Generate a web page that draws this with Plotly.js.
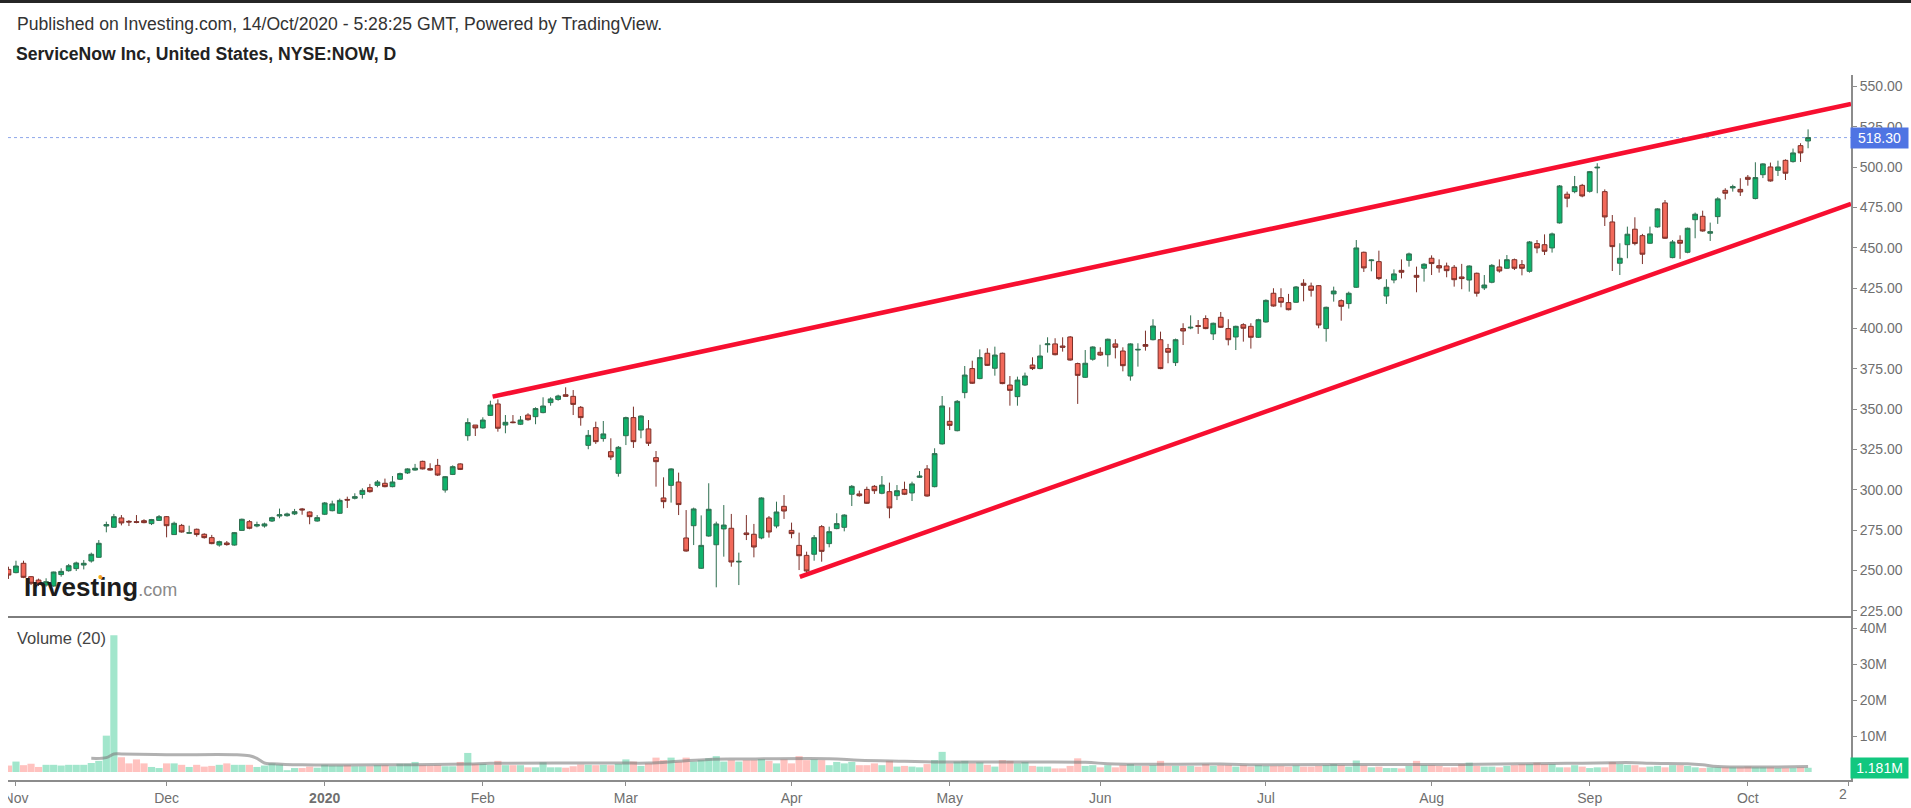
<!DOCTYPE html>
<html>
<head>
<meta charset="utf-8">
<script src="https://cdn.plot.ly/plotly-3.0.1.min.js"></script>
<style>
  html, body { margin: 0; padding: 0; background: #fff; overflow: hidden; }
  .top-strip { position: absolute; left: 0; top: 0; width: 1911px; height: 3px; background: #262626; z-index: 2; }
  .left-clip { position: absolute; left: 0; top: 782px; width: 8px; height: 26px; background: #fff; z-index: 2; }
  .chart { width: 1911px; height: 808px; }
</style>
</head>
<body>
<div class="top-strip"></div>
<div class="left-clip"></div>
<div class="chart"></div>
<script>
// daily candles, first one is 31 Oct 2019 (bar -1)
const openPrices = [250.6,
  248.6,254.4,246.1,244.0,240.9,240.3,247.4,249.8,251.1,253.3,
  255.8,258.1,277.5,276.7,282.5,280.4,280.2,280.8,279.0,281.0,
  283.3,272.2,277.9,273.0,275.5,272.4,270.3,265.7,267.0,265.7,
  274.8,280.2,277.5,277.5,280.6,283.7,283.9,285.0,288.1,286.2,
  280.6,284.8,287.0,285.4,294.0,294.7,297.1,301.3,302.7,304.0,
  301.9,306.5,310.4,312.2,317.6,313.1,315.1,299.8,309.5,316.0,
  333.5,340.1,338.3,346.1,353.2,340.1,342.0,340.6,346.3,345.3,
  347.8,354.0,356.0,358.9,357.9,351.1,327.5,338.5,331.7,323.6,
  310.2,333.5,344.7,337.0,337.7,319.9,294.9,302.7,304.8,270.1,
  277.7,251.3,271.3,265.9,275.7,276.1,255.2,273.2,272.4,270.1,
  282.5,277.5,289.7,274.8,265.5,259.3,260.0,277.1,266.6,275.9,
  276.7,297.2,297.4,300.2,302.1,297.8,298.8,296.3,300.2,298.0,
  307.7,312.9,301.9,328.4,342.4,336.6,360.2,375.1,368.9,384.6,
  375.3,384.6,364.9,357.7,364.9,377.3,375.1,389.9,390.4,389.1,
  394.7,378.2,369.7,380.9,385.2,383.7,390.4,386.0,370.5,386.6,
  390.0,393.0,393.0,387.5,378.8,399.9,400.3,401.7,406.1,396.6,
  406.9,399.9,394.7,402.3,401.3,394.5,404.0,421.8,419.1,416.0,
  416.2,428.0,426.3,426.5,399.9,421.4,417.2,415.4,425.5,447.2,
  442.0,441.4,420.1,430.0,436.0,442.2,432.9,437.3,443.5,438.9,
  438.7,437.9,431.9,430.0,434.2,425.1,428.6,438.1,437.3,442.6,
  439.5,435.4,452.6,451.9,449.9,465.4,483.2,484.8,488.7,485.0,
  499.5,484.8,466.0,440.4,451.9,461.5,457.5,452.8,462.9,477.8,
  443.9,454.6,447.2,467.4,469.5,459.0,469.3,485.6,487.1,486.2,
  493.7,480.5,495.3,500.1,498.0,504.2,503.4,513.3,516.2]
const highPrices = [252.3,
  256.0,256.0,246.5,244.9,245.1,249.2,251.3,254.0,255.4,256.4,
  261.0,268.8,280.2,285.0,284.3,281.2,284.3,281.7,281.9,284.3,
  283.7,280.2,278.8,277.7,275.9,273.0,272.0,268.4,268.2,273.8,
  282.1,281.2,280.2,279.6,283.3,288.3,285.8,288.1,288.7,286.6,
  284.3,292.4,293.2,294.5,295.7,297.8,300.9,303.6,306.0,306.9,
  308.5,310.6,313.3,316.0,318.0,316.4,319.1,308.5,315.1,316.4,
  344.3,340.1,344.9,355.2,356.0,346.3,346.3,345.7,347.4,351.1,
  357.3,357.3,358.9,363.5,361.8,351.9,337.0,342.2,342.6,331.9,
  327.1,345.3,351.5,346.1,343.2,324.0,307.7,313.3,310.6,287.4,
  288.9,284.1,304.0,280.2,290.5,285.0,261.0,284.3,278.8,295.3,
  283.7,292.6,296.7,279.6,273.4,261.6,271.9,278.1,277.1,285.4,
  284.8,302.9,299.4,301.9,302.9,308.5,304.4,302.9,305.0,305.0,
  311.6,315.3,325.7,358.1,351.1,355.6,376.7,380.0,387.0,387.7,
  388.7,385.0,370.5,370.1,372.6,382.1,389.9,394.5,393.9,394.5,
  395.3,378.8,386.6,388.9,388.3,393.7,393.3,388.3,390.8,390.8,
  398.6,405.7,398.0,390.4,393.7,403.2,408.1,405.2,408.1,403.6,
  410.2,405.7,401.7,403.2,403.2,406.0,418.0,424.9,424.9,421.4,
  426.3,430.5,428.4,426.9,413.5,425.9,418.0,422.8,454.8,447.6,
  442.8,448.2,430.5,436.6,442.8,447.0,438.3,440.4,445.3,442.8,
  440.8,439.3,440.0,439.1,434.6,433.1,439.9,442.8,445.5,443.3,
  442.4,454.2,454.8,458.3,459.4,488.9,484.8,494.5,489.6,497.6,
  502.4,486.2,470.3,452.8,463.1,468.9,458.6,463.1,474.5,479.6,
  454.8,457.7,462.5,471.8,473.0,465.6,481.3,486.9,489.1,493.1,
  495.1,503.0,502.4,502.8,504.0,504.8,511.5,514.8,523.4]
const lowPrices = [244.7,
  248.2,245.2,240.9,240.3,239.9,239.9,246.1,249.2,249.6,250.6,
  254.8,257.9,273.6,276.5,277.9,277.5,279.2,279.2,278.1,280.6,
  270.5,272.0,273.4,272.6,270.9,269.7,266.2,264.7,265.3,265.3,
  274.6,275.5,276.7,276.5,280.0,282.3,283.3,284.3,284.5,278.6,
  280.2,284.3,286.6,285.0,288.7,294.0,294.5,298.2,301.5,301.5,
  301.5,306.0,309.8,311.8,312.6,311.8,308.5,298.2,309.1,312.2,
  330.4,333.3,337.9,345.7,336.0,335.0,341.2,340.1,342.8,340.6,
  347.4,352.1,355.2,357.7,346.3,339.7,325.1,328.4,329.8,318.4,
  308.1,327.7,325.9,331.9,327.1,301.9,288.5,292.0,284.3,261.6,
  265.7,250.9,270.9,239.5,258.5,252.3,240.9,268.8,258.1,269.3,
  270.3,276.1,281.9,269.9,250.2,248.2,256.0,255.4,264.3,275.5,
  274.2,289.9,295.7,291.2,297.4,297.2,282.3,293.6,296.7,293.0,
  307.3,295.7,301.5,328.0,337.0,336.2,356.7,365.6,368.5,376.7,
  370.7,365.4,352.1,352.1,364.3,374.2,374.7,385.0,383.3,385.6,
  380.0,353.2,369.3,380.0,382.9,376.3,381.4,373.4,367.6,376.3,
  386.2,392.6,374.7,378.4,376.7,389.7,399.5,396.6,399.5,392.8,
  400.3,389.5,386.6,391.8,387.5,394.1,403.6,413.5,413.1,411.2,
  415.8,416.8,419.7,400.1,391.8,416.6,404.8,412.3,425.1,435.0,
  435.4,430.0,415.2,428.0,431.0,438.3,422.4,429.0,433.1,434.6,
  431.7,425.9,424.3,422.8,419.7,423.8,428.0,434.6,436.9,436.2,
  432.9,434.6,446.6,445.5,447.0,465.0,475.1,483.8,481.3,484.2,
  483.8,463.5,435.6,433.1,443.5,451.5,439.9,452.4,462.5,455.5,
  443.5,443.1,446.6,455.9,460.0,454.2,464.8,480.0,484.8,482.1,
  488.5,480.0,493.2,491.0,494.5,492.0,502.8,503.2,511.7]
const closePrices = [247.1,
  252.7,245.7,242.0,241.5,243.0,249.0,249.4,252.9,254.6,254.4,
  260.0,266.8,278.4,283.3,279.4,280.0,279.8,279.6,281.5,283.3,
  277.7,279.2,273.8,273.4,272.2,270.3,266.6,267.8,266.0,273.4,
  281.7,276.1,278.4,278.8,282.7,284.5,285.0,286.4,287.5,283.3,
  282.7,291.8,291.2,293.4,293.6,295.7,299.6,298.8,304.8,301.9,
  304.8,310.0,312.9,313.3,312.9,312.2,309.1,308.1,314.3,312.6,
  341.6,338.3,343.2,352.5,338.1,341.8,341.6,343.2,343.4,350.3,
  351.9,356.3,358.1,357.9,352.9,344.7,333.7,329.8,334.6,320.3,
  326.3,344.7,329.8,345.7,328.8,317.4,292.6,312.9,290.8,262.0,
  288.1,265.5,287.9,278.8,278.1,255.2,255.6,272.2,264.5,294.9,
  273.8,286.2,286.8,272.8,259.1,249.6,270.3,261.8,274.0,279.0,
  284.3,302.1,296.3,291.6,299.4,302.9,288.7,299.4,297.2,303.6,
  308.5,296.1,322.4,351.9,339.9,354.8,371.1,366.0,381.9,377.1,
  383.5,365.8,361.6,368.0,370.5,375.1,382.9,390.4,383.7,388.3,
  380.4,370.9,378.4,388.5,383.5,393.3,388.3,376.9,390.4,387.0,
  388.9,401.5,375.1,385.2,393.0,398.4,400.7,401.3,399.9,403.2,
  400.7,393.0,401.3,400.1,394.5,405.4,417.4,413.9,416.2,411.6,
  425.7,426.7,423.6,402.1,413.1,423.2,413.7,421.8,449.9,437.5,
  442.4,430.9,425.5,433.8,434.8,446.2,431.7,439.8,440.2,437.5,
  435.8,430.2,430.9,438.7,421.8,426.9,439.1,435.6,442.6,437.3,
  437.3,453.6,449.9,447.8,458.6,488.3,480.7,487.9,482.1,497.2,
  499.9,469.1,450.7,443.5,458.4,452.6,446.0,458.6,474.1,455.9,
  453.6,452.8,462.1,470.8,460.4,460.0,480.3,483.8,487.9,484.6,
  492.4,493.5,502.0,491.4,500.1,496.2,508.8,508.8,518.3]
// volume in millions
const volumes = [1.8,
  2.9,1.9,2.3,1.4,2.0,2.0,1.8,2.0,2.0,2.0,
  2.5,3.1,10.1,38,4.1,2.4,3.5,2.4,1.4,1.1,
  2.4,2.4,2.0,1.4,2.0,1.5,1.7,2.0,2.4,2.0,
  2.0,2.0,1.4,1.8,2.4,2.1,0.5,1.1,1.1,1.5,
  1.2,2.0,1.8,1.8,1.9,1.6,1.6,1.6,1.9,1.9,
  1.6,2.3,2.3,2.8,1.9,1.8,1.9,1.6,1.6,2.8,
  5.3,2.3,2.3,2.0,3.1,1.9,1.9,1.9,1.3,1.3,
  2.7,1.3,1.3,1.2,1.6,2.1,2.0,1.9,2.0,1.9,
  2.3,3.5,2.9,1.7,2.4,4.0,3.3,4.0,2.9,4.0,
  2.9,3.3,3.8,4.4,2.9,3.3,2.9,3.3,3.3,3.6,
  3.1,2.4,3.5,2.4,4.4,3.3,3.5,3.3,1.9,2.8,
  2.4,2.8,1.9,1.9,2.4,1.9,3.1,1.5,1.7,1.5,
  1.3,2.2,3.3,5.6,2.4,2.9,3.1,2.4,2.7,2.0,
  1.5,3.3,3.1,2.4,2.8,1.7,1.5,1.5,1.0,1.0,
  1.7,3.8,1.7,1.9,1.3,1.9,1.3,1.9,2.2,1.7,
  1.7,1.9,3.1,1.7,1.7,1.7,1.7,1.5,2.2,1.7,
  1.9,1.9,1.5,1.9,1.5,1.9,1.7,1.7,1.7,1.5,
  1.8,1.5,1.5,1.7,1.9,2.2,1.9,1.5,3.2,1.8,
  1.3,1.5,1.1,1.1,1.0,1.7,3.1,1.9,1.9,1.7,
  1.3,1.3,2.2,2.6,1.7,1.5,1.5,1.3,1.7,1.9,
  2.2,2.2,2.6,2.2,2.2,1.3,1.3,1.9,1.5,1.1,
  1.3,1.3,2.8,2.2,2.0,1.9,1.3,1.5,1.7,1.3,
  1.9,1.9,1.7,1.3,1.1,1.3,1.3,1.3,1.3,1.3,
  1.5,1.3,1.3,1.3,1.1,1.1,1.1,1.3,1.181]

// volume moving average, read at a few bars only
const maBars = [10,12,13,14,20,29,31,32,33,34,38,50,60,63,80,84,88,92,96,108,112,118,122,136,142,146,160,165,176,192,200,206,212,215,217,222,224,226,238]
const maValues = [3.8,4.0,5.0,5.0,4.8,4.8,4.5,3.8,2.5,2.3,2.0,2.0,2.2,2.4,2.5,2.5,3.0,3.5,3.6,3.7,3.3,3.0,2.8,2.8,2.7,2.2,2.2,2.0,2.1,2.1,2.3,2.4,2.6,2.6,2.4,2.3,2.0,1.5,1.5]

// the two red wedge lines
const upperLineBars = [63.3, 243.7]
const upperLinePrices = [357.7, 539.2]
const lowerLineBars = [104.1, 243.7]
const lowerLinePrices = [246, 477.2]

const monthBars = [0, 20, 41, 62, 81, 103, 124, 144, 166, 188, 209, 230, 243.4]
const monthLabels = ['Nov', 'Dec', '<b>2020</b>', 'Feb', 'Mar', 'Apr', 'May', 'Jun', 'Jul', 'Aug', 'Sep', 'Oct', '']
const priceTicks = [225, 250, 275, 300, 325, 350, 375, 400, 425, 450, 475, 500, 525, 550]
const volumeTicks = [10, 20, 30, 40]
const volumeTickLabels = ['10M', '20M', '30M', '40M']

const lastPrice = 518.30
const lastVolume = 1.181

function drawChart() {
    const chart = document.querySelector('.chart')
    const bars = openPrices.map((_, i) => i - 1)
    const font = '"Liberation Sans", Arial, sans-serif'
    const axisGrey = '#8c8c8c'
    const tickGrey = '#6f6f6f'

    const candles = {
        type: 'candlestick',
        x: bars,
        open: openPrices,
        high: highPrices,
        low: lowPrices,
        close: closePrices,
        xaxis: 'x',
        yaxis: 'y',
        increasing: { line: { color: '#2f6f50', width: 1 }, fillcolor: '#0fb36c' },
        decreasing: { line: { color: '#7c2f28', width: 1 }, fillcolor: '#f2695a' },
        whiskerwidth: 0,
        hoverinfo: 'skip'
    }

    const volumeBars = {
        type: 'bar',
        x: bars,
        y: volumes,
        yaxis: 'y2',
        width: 0.95,
        marker: {
            color: bars.map((_, i) => closePrices[i] >= openPrices[i] ? '#a2e6cc' : '#ffc2bf')
        },
        hoverinfo: 'skip'
    }

    const volumeMa = {
        type: 'scatter',
        mode: 'lines',
        x: maBars,
        y: maValues,
        yaxis: 'y2',
        line: { color: 'rgba(125,125,125,0.6)', width: 3, shape: 'spline' },
        hoverinfo: 'skip'
    }

    const upperLine = {
        type: 'scatter',
        mode: 'lines',
        x: upperLineBars,
        y: upperLinePrices,
        line: { color: '#f70f30', width: 4.5 },
        hoverinfo: 'skip'
    }
    const lowerLine = {
        type: 'scatter',
        mode: 'lines',
        x: lowerLineBars,
        y: lowerLinePrices,
        line: { color: '#f70f30', width: 4.5 },
        hoverinfo: 'skip'
    }

    const layout = {
        width: 1911,
        height: 808,
        margin: { l: 8, r: 60, t: 75, b: 28 },
        paper_bgcolor: '#fff',
        plot_bgcolor: '#fff',
        showlegend: false,
        boxgap: 0.1,
        font: { family: font, color: tickGrey, size: 14 },
        xaxis: {
            range: [-1.06, 243.7],
            anchor: 'y2',
            rangeslider: { visible: false },
            tickmode: 'array',
            tickvals: monthBars,
            ticktext: monthLabels,
            ticks: 'outside',
            ticklen: 4,
            tickcolor: axisGrey,
            showgrid: false,
            zeroline: false,
            showline: true,
            linecolor: axisGrey,
            linewidth: 2,
            tickfont: { family: font, size: 14, color: tickGrey }
        },
        yaxis: {
            domain: [0.2312, 1],
            range: [221.1, 557.1],
            side: 'right',
            anchor: 'x',
            tickmode: 'array',
            tickvals: priceTicks,
            tickformat: '.2f',
            ticks: 'outside',
            ticklen: 4,
            tickcolor: axisGrey,
            showgrid: false,
            zeroline: false,
            showline: true,
            linecolor: axisGrey,
            linewidth: 2,
            tickfont: { family: font, size: 14, color: tickGrey }
        },
        yaxis2: {
            domain: [0, 0.2312],
            range: [-2.22, 43.06],
            side: 'right',
            anchor: 'x',
            tickmode: 'array',
            tickvals: volumeTicks,
            ticktext: volumeTickLabels,
            ticks: 'outside',
            ticklen: 4,
            tickcolor: axisGrey,
            showgrid: false,
            zeroline: false,
            showline: true,
            linecolor: axisGrey,
            linewidth: 2,
            tickfont: { family: font, size: 14, color: tickGrey }
        },
        shapes: [
            // pane separator
            { type: 'line', xref: 'paper', yref: 'paper', x0: 0, x1: 1, y0: 0.2312, y1: 0.2312, line: { color: '#7d7d7d', width: 2 } },
            // last price dotted line
            { type: 'line', xref: 'paper', yref: 'y', x0: 0, x1: 1, y0: lastPrice, y1: lastPrice, layer: 'below', line: { color: '#8fa8ea', width: 1, dash: 'dot' } }
        ],
        annotations: [
            {
                xref: 'paper', yref: 'paper', x: 0, y: 1, xshift: 7, yshift: 51, xanchor: 'left', yanchor: 'middle', showarrow: false,
                text: 'Published on Investing.com, 14/Oct/2020 - 5:28:25 GMT, Powered by TradingView.',
                font: { family: font, size: 17.6, color: '#333' }
            },
            {
                xref: 'paper', yref: 'paper', x: 0, y: 1, xshift: 6, yshift: 21, xanchor: 'left', yanchor: 'middle', showarrow: false,
                text: '<b>ServiceNow Inc, United States, NYSE:NOW, D</b>',
                font: { family: font, size: 17.6, color: '#222' }
            },
            {
                xref: 'paper', yref: 'paper', x: 0, y: 0.2312, xshift: 14, yshift: 30, xanchor: 'left', yanchor: 'middle', showarrow: false,
                text: '<b>Investing</b><span style="font-size:18px;color:#8a8a8a">.com</span>',
                font: { family: font, size: 26, color: '#1c1c1c' }
            },
            {
                xref: 'paper', yref: 'paper', x: 0, y: 0.2312, xshift: 92, yshift: 40, xanchor: 'center', yanchor: 'middle', showarrow: false,
                text: '•',
                font: { family: font, size: 14, color: '#f5a623' }
            },
            {
                xref: 'paper', yref: 'paper', x: 0, y: 0.2312, xshift: 7, yshift: -21, xanchor: 'left', yanchor: 'middle', showarrow: false,
                text: 'Volume (20)',
                font: { family: font, size: 16.5, color: '#444' }
            },
            {
                xref: 'paper', yref: 'y', x: 1, y: lastPrice, xanchor: 'left', yanchor: 'middle', xshift: -1, showarrow: false,
                text: lastPrice.toFixed(2), width: 55, height: 18, bgcolor: '#4f74e3',
                font: { family: font, size: 14, color: '#fff' }
            },
            {
                xref: 'paper', yref: 'y2', x: 1, y: lastVolume, xanchor: 'left', yanchor: 'middle', xshift: -1, showarrow: false,
                text: lastVolume + 'M', width: 55, height: 18, bgcolor: '#12c77f',
                font: { family: font, size: 14, color: '#fff' }
            },
            {
                xref: 'x', yref: 'paper', x: 243.4, y: 0, xanchor: 'right', yanchor: 'top', yshift: -4, showarrow: false,
                text: '2',
                font: { family: font, size: 14, color: tickGrey }
            }
        ]
    }

    Plotly.newPlot(chart, [volumeBars, volumeMa, candles, upperLine, lowerLine], layout, { displayModeBar: false, staticPlot: true })
}

drawChart()
</script>
</body>
</html>
